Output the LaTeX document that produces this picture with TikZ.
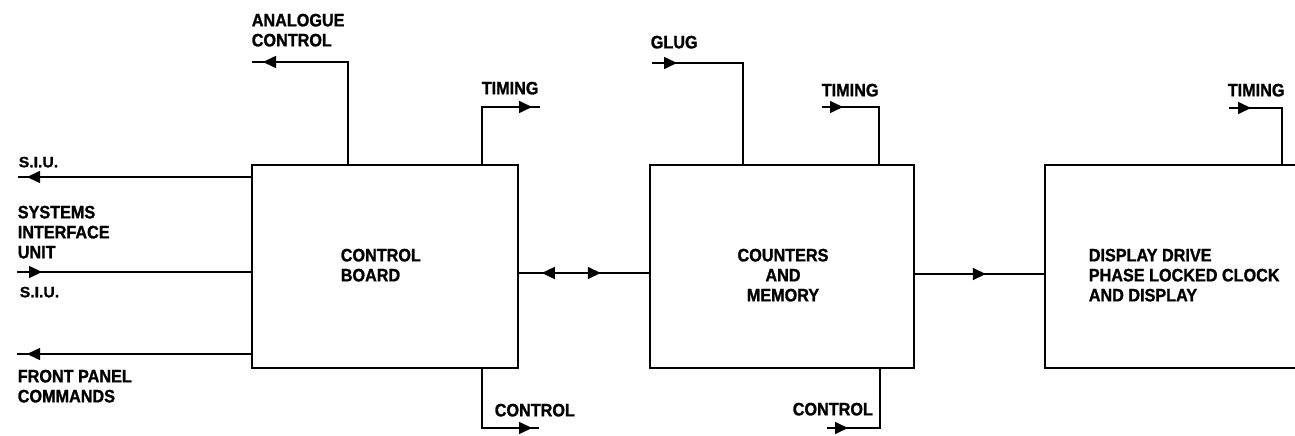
\documentclass[tikz,border=0pt]{standalone}
\usepackage{fontspec}
\newfontfamily\lab{Liberation Sans}[UprightFont={* Bold}, FakeStretch=0.9, FakeBold=1.2]
\newfontfamily\siu{Liberation Sans}[UprightFont={* Bold}, FakeStretch=1.05, FakeBold=1.2]
\usetikzlibrary{arrows.meta,decorations.markings}
\begin{document}
\begin{tikzpicture}[x=1pt,y=-1pt,
  line width=1.6pt,
  block/.style={draw, minimum height=203pt, inner sep=0pt},
  lbl/.style={inner sep=0pt, anchor=north west, align=left, font=\lab\fontsize{18}{20}\selectfont},
  clbl/.style={lbl, anchor=north, align=center},
  siulbl/.style={inner sep=0pt, anchor=north west, font=\siu\fontsize{15}{17}\selectfont},
  tipat/.style={postaction={decorate,decoration={markings,mark=at position #1 with {\arrow{Triangle[length=13pt,width=12pt]}}}}},
  tipback/.style={postaction={decorate,decoration={markings,mark=at position #1 with {\arrowreversed{Triangle[length=13pt,width=12pt]}}}}}
]
\useasboundingbox (0,0) rectangle (1295,436);
\clip (0,0) rectangle (1295,436);

% blocks
\node[block, minimum width=266pt] (box1) at (385,266.5) {};
\node[block, minimum width=264pt] (box2) at (782,266.5) {};
\node[block, minimum width=255pt] (box3) at (1172.5,266.5) {};

% block texts
\node[lbl] (tcb) at (340,248) {CONTROL\\BOARD};
\node[clbl] (tcm) at (783,248) {COUNTERS\\AND\\MEMORY};
\node[lbl] (tdd) at (1088,248) {DISPLAY DRIVE\\PHASE LOCKED CLOCK\\AND DISPLAY};

% outer labels
\node[lbl] (lana) at (251,13) {ANALOGUE\\CONTROL};
\node[siulbl] (lsiu1) at (18,156) {S.I.U.};
\node[lbl] (lsys) at (17,205) {SYSTEMS\\INTERFACE\\UNIT};
\node[siulbl] (lsiu2) at (19,286) {S.I.U.};
\node[lbl] (lfp) at (17,369) {FRONT PANEL\\COMMANDS};
\node[lbl] (lt1) at (481,81) {TIMING};
\node[lbl] (lc1) at (494,403) {CONTROL};
\node[lbl] (lglug) at (650,35) {GLUG};
\node[lbl] (lt2) at (821,83) {TIMING};
\node[lbl] (lc2) at (792,402) {CONTROL};
\node[lbl] (lt3) at (1227,83) {TIMING};

% free ends and corners
\coordinate (anaC) at (348,62);  \coordinate (anaE) at (252,62);
\coordinate (t1C) at (482,107);  \coordinate (t1E) at (540,107);
\coordinate (c1C) at (482,428);  \coordinate (c1E) at (539,428);
\coordinate (gS) at (652,63);    \coordinate (gC) at (743,63);
\coordinate (t2S) at (822,107);  \coordinate (t2C) at (879,107);
\coordinate (c2S) at (827,428);  \coordinate (c2C) at (880,428);
\coordinate (t3S) at (1229,108); \coordinate (t3C) at (1282,108);
\coordinate (siuE) at (18,177);
\coordinate (sysS) at (17,272);
\coordinate (fpE) at (17,354);

% connectors
\draw[tipat=-11pt] (box1.north -| anaC) -- (anaC) -- (anaE);
\draw[tipat=-8pt] (box1.north -| t1C) -- (t1C) -- (t1E);
\draw[tipat=-7pt] (box1.south -| c1C) -- (c1C) -- (c1E);
\draw[tipat=25pt] (gS) -- (gC) -- (box2.north -| gC);
\draw[tipat=21pt] (t2S) -- (t2C) -- (box2.north -| t2C);
\draw[tipat=21pt] (c2S) -- (c2C) -- (box2.south -| c2C);
\draw[tipat=22pt] (t3S) -- (t3C) -- (box3.north -| t3C);
\draw[tipat=-9pt] (box1.west |- siuE) -- (siuE);
\draw[tipat=25pt] (sysS) -- (box1.west |- sysS);
\draw[tipat=-10pt] (box1.west |- fpE) -- (fpE);
\draw[tipat=82pt, tipback=23pt] ([yshift=-6.5pt]box1.east) -- ([yshift=-6.5pt]box2.west);
\draw[tipat=71pt] ([yshift=-7.5pt]box2.east) -- ([yshift=-7.5pt]box3.west);
\end{tikzpicture}
\end{document}
